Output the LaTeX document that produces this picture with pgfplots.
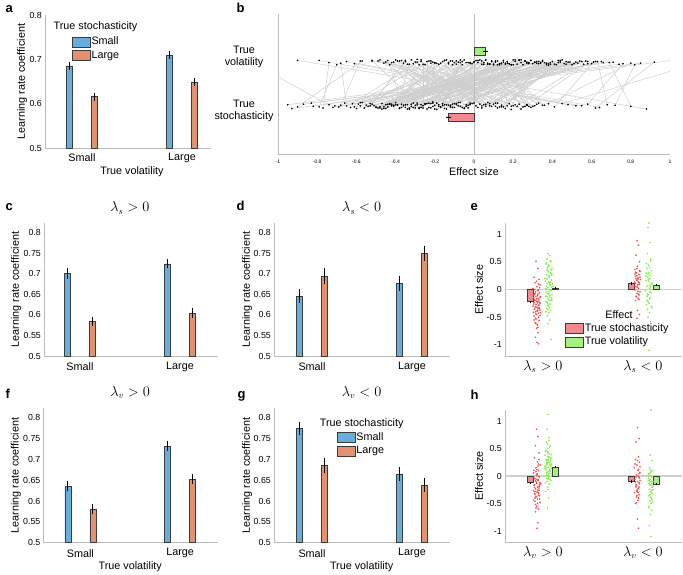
\documentclass[border=0pt]{standalone}
\usepackage{fontspec}
\setmainfont{Liberation Sans}
\usepackage{pgfplots}
\usepackage{pgfplotstable}
\pgfplotsset{compat=1.18}
\definecolor{blueC}{HTML}{68AEDC}
\definecolor{orangeC}{HTML}{E39170}
\definecolor{edgeC}{HTML}{3C3C3C}
\definecolor{axC}{HTML}{BBBBBB}
\definecolor{redBar}{HTML}{F08A8E}
\definecolor{greenBar}{HTML}{A4F07E}
\definecolor{redDot}{HTML}{FF4B4B}
\definecolor{greenDot}{HTML}{7CF23E}
\definecolor{lineC}{HTML}{CECECE}
\definecolor{zeroC}{HTML}{CFCFCF}
\newcommand\labfont{\fontsize{10.8}{12}\selectfont}
\newcommand\tickfont{\fontsize{8.8}{10}\selectfont}
\newcommand\tinyticks{\fontsize{5}{6}\selectfont}
\newcommand\titfont{\fontsize{13.5}{15}\selectfont}
\newcommand\letfont{\fontsize{13}{14}\selectfont\bfseries}
\pgfplotsset{
  panel/.style={scale only axis, anchor=south west,
    axis x line=bottom, axis y line=left,
    axis line style={-, draw=axC, line width=0.6pt},
    every outer x axis line/.append style={-},
    every outer y axis line/.append style={-},
    every inner x axis line/.append style={-},
    every inner y axis line/.append style={-},
    major tick length=0pt, minor tick num=0,
    /pgf/number format/assume math mode=true,
    tick label style={font=\tickfont},
    yticklabel style={anchor=east, inner sep=0pt, xshift=-3pt},
    xticklabel style={anchor=center, inner sep=0pt, font=\labfont, yshift=-10.5pt},
    label style={font=\labfont},
    title style={font=\titfont, anchor=center},
    ylabel style={anchor=center},
    xlabel style={anchor=center},
  },
  lrc/.style={panel, ymin=0.5, ymax=0.8236, xtick={1,2}, xticklabels={Small,Large},
    ytick={0.5,0.55,0.6,0.65,0.7,0.75,0.8},
    yticklabels={0.5,0.55,0.6,0.65,0.7,0.75,0.8},
    ylabel={Learning rate coefficient}},
  legsty/.style={legend style={draw=none, fill=none, inner sep=0pt, font=\labfont,
      row sep=0.8pt, nodes={inner sep=1pt, text height=8pt, text depth=2.5pt}, cells={anchor=west}},
    legend cell align=left,
    legend image code/.code={\draw[##1, line width=0.6pt] (0pt,-5pt) rectangle (18pt,5pt);}},
  vbar/.style={ybar, bar width=6pt, bar shift=0pt, draw=edgeC, line width=0.6pt, forget plot,
    error bars/y dir=both, error bars/y explicit, error bars/error mark=none,
    error bars/error bar style={line width=0.9pt, black}},
  cloud/.style={only marks, mark=*, mark size=0.6pt, forget plot},
  zline/.style={draw=zeroC, line width=1.4pt, forget plot},
}
\pgfplotstableread{
xs ys xv yv
-0.42 1.10 0.31 1.90
0.12 1.06 -0.22 1.93
-0.25 1.14 0.05 1.87
-0.61 1.08 0.44 1.91
0.05 1.12 -0.48 1.95
-0.33 1.04 0.18 1.88
-0.08 1.16 0.62 1.92
0.28 1.09 -0.11 1.86
-0.52 1.13 -0.35 1.94
-0.17 1.07 0.27 1.89
0.35 1.11 0.09 1.93
-0.45 1.05 -0.04 1.90
-0.02 1.15 0.38 1.85
-0.71 1.10 0.55 1.92
0.19 1.03 -0.29 1.96
-0.29 1.12 0.14 1.88
-0.12 1.08 -0.41 1.91
0.08 1.14 0.47 1.87
-0.38 1.06 0.02 1.94
-0.55 1.11 -0.17 1.89
0.22 1.09 0.33 1.92
-0.21 1.17 -0.06 1.86
-0.47 1.04 0.24 1.90
0.03 1.13 -0.32 1.95
-0.31 1.07 0.51 1.88
-0.14 1.12 0.11 1.93
0.31 1.10 -0.45 1.91
-0.66 1.15 0.07 1.87
-0.05 1.05 0.29 1.94
-0.36 1.11 -0.13 1.90
0.15 1.08 0.42 1.86
-0.24 1.14 -0.24 1.92
-0.49 1.06 0.16 1.89
-0.09 1.12 -0.38 1.93
0.26 1.09 0.58 1.88
-0.40 1.16 0.00 1.91
-0.19 1.03 0.21 1.95
-0.58 1.10 -0.09 1.87
0.10 1.13 0.36 1.90
-0.27 1.07 -0.52 1.94
-0.03 1.11 0.13 1.86
-0.44 1.08 0.40 1.92
0.33 1.15 -0.19 1.89
-0.15 1.05 0.26 1.93
-0.35 1.12 -0.01 1.88
0.06 1.09 0.49 1.91
-0.62 1.14 -0.27 1.95
-0.22 1.06 0.08 1.87
0.17 1.10 0.34 1.90
-0.11 1.13 -0.15 1.94
-0.50 1.07 0.19 1.86
-0.30 1.11 0.65 1.92
0.24 1.04 -0.36 1.89
-0.07 1.16 0.04 1.93
-0.41 1.09 0.30 1.88
-0.18 1.12 -0.21 1.91
0.13 1.08 0.45 1.95
-0.53 1.14 0.10 1.87
-0.26 1.06 -0.07 1.90
0.01 1.10 0.23 1.94
-0.37 1.13 -0.43 1.86
0.29 1.07 0.17 1.92
-0.13 1.11 0.53 1.89
-0.46 1.05 -0.12 1.93
-0.23 1.15 0.28 1.88
0.09 1.09 -0.30 1.91
-0.34 1.12 0.06 1.95
-0.69 1.08 0.39 1.87
-0.01 1.14 -0.02 1.90
-0.28 1.06 0.15 1.94
0.20 1.10 -0.25 1.86
-0.43 1.13 0.32 1.92
-0.10 1.07 -0.46 1.89
0.36 1.11 0.12 1.93
-0.20 1.04 0.60 1.88
-0.57 1.16 -0.08 1.91
-0.04 1.09 0.20 1.95
-0.39 1.12 -0.33 1.87
0.14 1.08 0.43 1.90
-0.16 1.14 0.01 1.94
-0.48 1.06 0.25 1.86
0.04 1.10 -0.16 1.92
-0.32 1.13 0.37 1.89
-0.06 1.07 -0.39 1.93
0.27 1.11 0.08 1.88
-0.60 1.05 0.48 1.91
-0.21 1.15 -0.05 1.95
0.11 1.09 0.22 1.87
-0.40 1.12 -0.20 1.90
-0.12 1.08 0.35 1.94
-0.95 1.12 0.71 1.91
-0.90 1.08 -0.57 1.93
-0.83 1.15 0.85 1.89
-0.77 1.06 -0.74 1.90
0.52 1.10 -0.90 1.94
0.58 1.13 0.76 1.88
0.64 1.07 -0.65 1.92
0.72 1.11 0.82 1.86
0.80 1.09 0.69 1.90
0.88 1.04 -0.52 1.93
-0.93 1.05 1.05 1.96
0.45 1.14 1.15 1.90
-0.74 1.12 -1.10 1.83
0.41 1.08 0.61 1.91
-0.65 1.10 -0.68 1.89
-0.44 1.13 0.14 1.89
0.02 1.07 -0.27 1.92
-0.31 1.15 0.41 1.87
-0.18 1.09 0.03 1.95
0.21 1.12 -0.10 1.90
-0.56 1.06 0.26 1.93
-0.09 1.14 -0.31 1.88
-0.36 1.10 0.52 1.91
0.16 1.05 0.19 1.86
-0.25 1.13 -0.44 1.94
-0.48 1.08 0.07 1.89
0.07 1.16 0.35 1.92
-0.14 1.04 -0.18 1.87
-0.39 1.11 0.23 1.95
0.30 1.09 -0.03 1.90
-0.22 1.14 0.46 1.88
-0.63 1.07 -0.23 1.93
-0.04 1.12 0.10 1.86
-0.33 1.06 0.31 1.91
0.11 1.15 -0.37 1.94
-0.51 1.10 0.17 1.89
-0.17 1.08 -0.06 1.92
0.23 1.13 0.56 1.87
-0.28 1.05 0.02 1.90
-0.45 1.12 -0.14 1.95
-0.07 1.09 0.38 1.88
0.18 1.14 -0.49 1.93
-0.37 1.07 0.12 1.86
-0.12 1.11 0.27 1.91
-0.58 1.16 -0.02 1.89
0.04 1.06 0.44 1.94
-0.26 1.10 -0.26 1.87
-0.42 1.13 0.21 1.92
0.25 1.08 0.05 1.90
-0.19 1.15 -0.40 1.95
-0.34 1.04 0.33 1.88
-0.02 1.12 -0.11 1.93
-0.54 1.09 0.50 1.86
0.14 1.11 0.15 1.91
-0.23 1.07 -0.20 1.89
-0.47 1.14 0.29 1.94
-0.08 1.10 -0.34 1.87
0.32 1.13 0.09 1.92
-0.30 1.06 0.39 1.90
-0.15 1.12 -0.07 1.95
-0.50 1.08 0.18 1.88
0.00 1.15 0.57 1.93
-0.38 1.05 -0.28 1.86
-0.20 1.11 0.11 1.91
0.19 1.09 0.32 1.89
-0.43 1.14 -0.15 1.94
-0.11 1.07 0.04 1.87
-0.27 1.12 0.47 1.92
0.08 1.10 -0.42 1.90
-0.59 1.13 0.24 1.95
-0.05 1.06 0.13 1.88
-0.32 1.09 -0.09 1.93
0.12 1.15 0.37 1.86
-0.46 1.08 0.00 1.91
-0.16 1.11 -0.22 1.89
-0.24 1.04 0.43 1.94
0.27 1.12 0.16 1.87
-0.53 1.10 -0.35 1.92
-0.10 1.14 0.28 1.90
-0.35 1.07 0.06 1.95
0.06 1.13 -0.13 1.88
-0.21 1.09 0.54 1.93
-0.41 1.11 0.20 1.86
-0.03 1.06 -0.29 1.91
-0.29 1.15 0.34 1.89
-0.82 1.09 0.58 1.92
0.48 1.12 -0.61 1.88
-0.72 1.07 0.66 1.90
0.55 1.10 -0.79 1.94
-0.87 1.13 0.74 1.87
0.62 1.06 0.92 1.91
-0.68 1.11 -0.58 1.93
0.38 1.14 0.80 1.89
-0.79 1.08 -0.70 1.86
0.68 1.12 0.63 1.92
}\bdata
\begin{document}
\begin{tikzpicture}
\path[use as bounding box] (0pt,0pt) rectangle (683pt,-574pt);
% ---------------- a
\begin{axis}[lrc, legsty, at={(45pt,-148pt)}, width=166pt, height=133pt,
  xmin=0.63, xmax=2.29, ymax=0.8,
  ytick={0.5,0.6,0.7,0.8}, yticklabels={0.5,0.6,0.7,0.8},
  xticklabel style={yshift=0.5pt},
  xlabel={True volatility}, xlabel style={at={(axis description cs:0.524,-0.1805)}},
  ylabel style={at={(axis description cs:-0.1386,0.5)}},
  legend style={at={(axis description cs:0.161,0.845)}, anchor=north west}]
\addplot[vbar, fill=blueC] coordinates {(0.875,0.685) +- (0,0.010) (1.875,0.710) +- (0,0.009)};
\addplot[vbar, fill=orangeC] coordinates {(1.125,0.616) +- (0,0.009) (2.125,0.648) +- (0,0.009)};
\addlegendimage{fill=blueC, draw=edgeC}\addlegendentry{Small}
\addlegendimage{fill=orangeC, draw=edgeC}\addlegendentry{Large}
\end{axis}
\node[font=\labfont] at (95.5pt,-26.7pt) {True stochasticity};
% ---------------- b
\begin{axis}[panel, at={(278pt,-154pt)}, width=392pt, height=140pt,
  xmin=-1, xmax=1, ymin=0.2074, ymax=2.8,
  xtick={-1,-0.8,-0.6,-0.4,-0.2,0,0.2,0.4,0.6,0.8,1},
  xticklabels={-1,-0.8,-0.6,-0.4,-0.2,0,0.2,0.4,0.6,0.8,1},
  xticklabel style={font=\tinyticks, yshift=2.5pt},
  ytick={1,2}, yticklabels={{True\\stochasticity},{True\\volatility}},
  yticklabel style={anchor=center, align=center, font=\labfont, xshift=-31pt},
  xlabel={Effect size}, xlabel style={at={(axis description cs:0.5,-0.1286)}}]
\addplot[quiver={u=\thisrow{xv}-\thisrow{xs}, v=\thisrow{yv}-\thisrow{ys}},
  draw=lineC, line width=0.5pt, forget plot] table[x=xs, y=ys] {\bdata};
\addplot[draw=axC, line width=0.7pt, forget plot] coordinates {(0,0.2074) (0,2.8)};
\addplot[only marks, mark=*, mark size=0.6pt, black, forget plot] table[x=xs, y=ys] {\bdata};
\addplot[only marks, mark=*, mark size=0.6pt, black, forget plot] table[x=xv, y=yv] {\bdata};
\addplot[xbar, bar width=8pt, bar shift=0pt, fill=greenBar, draw=edgeC, line width=0.6pt, forget plot,
  error bars/x dir=both, error bars/x explicit, error bars/error mark=none,
  error bars/error bar style={line width=0.9pt, black}]
  coordinates {(0.057,2.115) +- (0.012,0)};
\addplot[xbar, bar width=8pt, bar shift=0pt, fill=redBar, draw=edgeC, line width=0.6pt, forget plot,
  error bars/x dir=both, error bars/x explicit, error bars/error mark=none,
  error bars/error bar style={line width=0.9pt, black}]
  coordinates {(-0.13,0.893) +- (0.012,0)};
\end{axis}
% ---------------- c
\begin{axis}[lrc, at={(44pt,-356pt)}, width=174pt, height=133pt,
  xmin=0.64, xmax=2.38,
  ylabel style={at={(axis description cs:-0.161,0.5)}},
  title={$\lambda_s>0$}, title style={at={(axis description cs:0.494,1.068)}}]
\addplot[vbar, fill=blueC] coordinates {(0.875,0.701) +- (0,0.013) (1.875,0.724) +- (0,0.011)};
\addplot[vbar, fill=orangeC] coordinates {(1.125,0.584) +- (0,0.012) (2.125,0.604) +- (0,0.012)};
\end{axis}
% ---------------- d
\begin{axis}[lrc, at={(274pt,-356pt)}, width=176pt, height=133pt,
  xmin=0.62, xmax=2.38,
  ylabel style={at={(axis description cs:-0.153,0.5)}},
  title={$\lambda_s<0$}, title style={at={(axis description cs:0.498,1.068)}}]
\addplot[vbar, fill=blueC] coordinates {(0.875,0.646) +- (0,0.017) (1.875,0.676) +- (0,0.018)};
\addplot[vbar, fill=orangeC] coordinates {(1.125,0.694) +- (0,0.019) (2.125,0.750) +- (0,0.018)};
\end{axis}
% ---------------- e
\begin{axis}[panel, legsty, at={(505pt,-356pt)}, width=177pt, height=133pt,
  xmin=0.62, xmax=2.39, ymin=-1.2, ymax=1.2,
  ytick={-1,-0.5,0,0.5,1}, yticklabels={-1,-0.5,0,0.5,1},
  xtick={1,2}, xticklabels={$\lambda_s>0$,$\lambda_s<0$},
  xticklabel style={font=\titfont},
  ylabel={Effect size}, ylabel style={at={(axis description cs:-0.147,0.5)}},
  legend style={at={(axis description cs:0.339,0.254)}, anchor=north west}]
\addplot[zline] coordinates {(0.62,0) (2.39,0)};
\addplot[cloud, redDot] coordinates {(0.93,0.51)(0.95,0.38)(0.91,0.22)(0.96,0.18)(0.92,0.12)(0.97,0.08)(0.94,0.05)(0.90,0.02)(0.955,-0.01)(0.925,-0.04)(0.965,-0.06)(0.915,-0.09)(0.945,-0.11)(0.975,-0.13)(0.905,-0.15)(0.935,-0.17)(0.96,-0.19)(0.92,-0.20)(0.95,-0.22)(0.91,-0.24)(0.97,-0.25)(0.93,-0.27)(0.955,-0.29)(0.9,-0.30)(0.94,-0.32)(0.965,-0.34)(0.915,-0.36)(0.945,-0.38)(0.925,-0.40)(0.975,-0.42)(0.935,-0.45)(0.91,-0.48)(0.955,-0.50)(0.93,-0.53)(0.96,-0.56)(0.92,-0.60)(0.945,-0.64)(0.935,-0.70)(0.95,-0.78)(0.925,-0.86)(0.94,-0.95)(0.955,-0.98)(0.97,-0.14)(0.905,-0.26)(0.96,-0.33)(0.92,0.0)(0.95,-0.08)(0.93,-0.44)
(0.915,-0.18)(0.95,-0.35)(0.93,-0.12)(0.965,-0.23)(0.905,-0.41)(0.945,-0.02)(0.925,-0.31)(0.97,-0.47)(0.935,-0.21)(0.955,0.10)(0.91,-0.55)(0.94,-0.39)(0.96,-0.28)(0.92,-0.07)(0.95,-0.16)(0.93,-0.62)(0.965,0.03)(0.915,-0.34)(0.945,-0.24)(0.925,-0.52)(0.955,-0.43)(0.935,0.15)(0.97,-0.37)(0.905,-0.10)(0.95,-0.68)};
\addplot[cloud, greenDot] coordinates {(1.05,0.65)(1.07,0.62)(1.04,0.55)(1.08,0.50)(1.03,0.46)(1.06,0.42)(1.09,0.38)(1.045,0.34)(1.075,0.30)(1.035,0.27)(1.065,0.24)(1.02,0.20)(1.085,0.17)(1.055,0.14)(1.04,0.11)(1.07,0.08)(1.1,0.05)(1.05,0.03)(1.03,0.01)(1.08,-0.02)(1.06,-0.04)(1.045,-0.07)(1.09,-0.09)(1.025,-0.12)(1.065,-0.14)(1.05,-0.17)(1.08,-0.20)(1.04,-0.23)(1.07,-0.26)(1.055,-0.30)(1.035,-0.34)(1.075,-0.38)(1.06,-0.42)(1.045,-0.47)(1.07,-0.55)(1.05,-0.62)(1.08,-0.90)(1.095,0.10)(1.03,-0.05)(1.06,0.22)(1.085,-0.15)(1.04,0.36)(1.065,0.0)(1.05,-0.28)(1.075,0.13)(1.035,0.06)(1.09,0.28)
(1.04,0.19)(1.07,-0.11)(1.055,0.32)(1.03,-0.21)(1.085,0.04)(1.045,0.40)(1.065,-0.33)(1.025,0.15)(1.075,-0.01)(1.05,0.25)(1.09,-0.18)(1.035,0.48)(1.06,-0.08)(1.08,0.35)(1.045,-0.25)(1.07,0.09)(1.03,-0.40)(1.055,0.44)(1.065,0.12)(1.04,-0.13)(1.085,0.26)(1.05,-0.36)(1.025,0.02)(1.075,0.52)(1.06,-0.19)};
\addplot[cloud, redDot] coordinates {(1.94,0.88)(1.955,0.80)(1.93,0.62)(1.965,0.50)(1.945,0.42)(1.92,0.36)(1.97,0.33)(1.935,0.30)(1.96,0.27)(1.925,0.24)(1.95,0.21)(1.975,0.18)(1.94,0.16)(1.915,0.13)(1.965,0.10)(1.945,0.08)(1.93,0.05)(1.955,0.02)(1.92,-0.01)(1.97,-0.04)(1.94,-0.07)(1.96,-0.10)(1.935,-0.13)(1.95,-0.16)(1.925,-0.20)(1.945,-0.38)(1.965,-0.45)(1.94,-0.52)(1.96,0.12)(1.93,0.20)(1.955,0.14)(1.92,0.06)
(1.94,0.25)(1.96,0.09)(1.925,0.31)(1.95,-0.03)(1.97,0.22)(1.935,0.17)(1.955,-0.08)(1.92,0.28)(1.945,0.04)(1.965,0.34)(1.93,-0.12)(1.95,0.19)(1.94,0.38)(1.96,-0.18)(1.925,0.11)};
\addplot[cloud, greenDot] coordinates {(2.06,1.20)(2.05,1.12)(2.07,0.85)(2.045,0.65)(2.075,0.55)(2.035,0.47)(2.065,0.40)(2.085,0.34)(2.05,0.28)(2.03,0.24)(2.07,0.20)(2.055,0.15)(2.09,0.10)(2.04,0.06)(2.065,0.02)(2.025,-0.02)(2.08,-0.06)(2.05,-0.10)(2.07,-0.15)(2.04,-0.20)(2.06,-0.25)(2.085,-0.30)(2.045,-0.36)(2.065,-0.42)(2.05,-0.50)(2.075,-0.58)(2.06,-1.10)(2.035,0.30)(2.08,0.0)(2.055,0.18)(2.07,0.08)(2.04,-0.12)
(2.05,0.22)(2.07,-0.04)(2.04,0.38)(2.065,-0.17)(2.085,0.12)(2.035,-0.27)(2.055,0.44)(2.075,0.04)(2.045,-0.08)(2.06,0.31)(2.09,-0.33)(2.03,0.16)(2.07,0.26)(2.05,-0.22)(2.08,0.52)};
\addplot[vbar, fill=redBar] coordinates {(0.87,-0.22) +- (0,0.02) (1.88,0.11) +- (0,0.02)};
\addplot[vbar, fill=greenBar] coordinates {(1.127,0.03) +- (0,0.015) (2.137,0.08) +- (0,0.02)};
\addlegendimage{fill=redBar, draw=edgeC}\addlegendentry{True stochasticity}
\addlegendimage{fill=greenBar, draw=edgeC}\addlegendentry{True volatility}
\end{axis}
\node[font=\labfont] at (619pt,-315pt) {Effect};
% ---------------- f
\begin{axis}[lrc, at={(43.5pt,-542.7pt)}, width=174.5pt, height=134.4pt,
  xmin=0.63, xmax=2.38, ymax=0.8225,
  xlabel={True volatility}, xlabel style={at={(axis description cs:0.497,-0.1786)}},
  ylabel style={at={(axis description cs:-0.158,0.5)}},
  title={$\lambda_v>0$}, title style={at={(axis description cs:0.497,1.074)}}]
\addplot[vbar, fill=blueC] coordinates {(0.875,0.636) +- (0,0.013) (1.875,0.732) +- (0,0.011)};
\addplot[vbar, fill=orangeC] coordinates {(1.125,0.580) +- (0,0.012) (2.125,0.652) +- (0,0.012)};
\end{axis}
% ---------------- g
\begin{axis}[lrc, legsty, at={(274pt,-542.7pt)}, width=176pt, height=134.4pt,
  xmin=0.62, xmax=2.38, ymax=0.8225,
  xlabel={True volatility}, xlabel style={at={(axis description cs:0.498,-0.1786)}},
  ylabel style={at={(axis description cs:-0.153,0.5)}},
  title={$\lambda_v<0$}, title style={at={(axis description cs:0.498,1.074)}},
  legend style={at={(axis description cs:0.356,0.829)}, anchor=north west}]
\addplot[vbar, fill=blueC] coordinates {(0.875,0.774) +- (0,0.016) (1.875,0.665) +- (0,0.016)};
\addplot[vbar, fill=orangeC] coordinates {(1.125,0.686) +- (0,0.018) (2.125,0.638) +- (0,0.017)};
\addlegendimage{fill=blueC, draw=edgeC}\addlegendentry{Small}
\addlegendimage{fill=orangeC, draw=edgeC}\addlegendentry{Large}
\end{axis}
\node[font=\labfont] at (361.7pt,-423.3pt) {True stochasticity};
% ---------------- h
\begin{axis}[panel, at={(505pt,-542pt)}, width=177pt, height=132pt,
  xmin=0.62, xmax=2.39, ymin=-1.2, ymax=1.2,
  ytick={-1,-0.5,0,0.5,1}, yticklabels={-1,-0.5,0,0.5,1},
  xtick={1,2}, xticklabels={$\lambda_v>0$,$\lambda_v<0$},
  xticklabel style={font=\titfont},
  ylabel={Effect size}, ylabel style={at={(axis description cs:-0.147,0.5)}}]
\addplot[zline] coordinates {(0.62,0) (2.39,0)};
\addplot[cloud, redDot] coordinates {(0.935,0.85)(0.95,0.72)(0.925,0.55)(0.96,0.42)(0.915,0.33)(0.945,0.26)(0.97,0.20)(0.93,0.15)(0.955,0.10)(0.905,0.06)(0.94,0.02)(0.965,-0.02)(0.92,-0.05)(0.95,-0.08)(0.935,-0.11)(0.975,-0.14)(0.91,-0.17)(0.945,-0.20)(0.925,-0.23)(0.96,-0.26)(0.94,-0.29)(0.915,-0.32)(0.955,-0.35)(0.93,-0.38)(0.965,-0.42)(0.92,-0.46)(0.945,-0.50)(0.935,-0.55)(0.955,-0.60)(0.925,-0.65)(0.95,-0.85)(0.94,-0.95)(0.97,-0.12)(0.91,-0.03)(0.96,-0.22)(0.93,0.08)(0.95,-0.30)(0.92,-0.40)(0.965,-0.18)(0.94,0.12)(0.905,-0.27)(0.955,-0.07)
(0.925,-0.09)(0.955,-0.31)(0.94,0.04)(0.915,-0.21)(0.965,-0.15)(0.93,-0.37)(0.95,0.18)(0.905,-0.44)(0.945,-0.25)(0.96,-0.01)(0.92,-0.33)(0.935,-0.13)(0.97,-0.48)(0.91,0.10)(0.95,-0.19)(0.93,-0.58)(0.955,0.22)(0.94,-0.06)(0.92,-0.28)(0.965,-0.36)(0.935,0.01)(0.945,-0.42)(0.915,-0.16)(0.96,0.30)(0.925,-0.52)};
\addplot[cloud, greenDot] coordinates {(1.05,1.12)(1.04,0.85)(1.06,0.70)(1.035,0.62)(1.07,0.55)(1.045,0.50)(1.025,0.45)(1.065,0.40)(1.05,0.36)(1.08,0.32)(1.03,0.28)(1.06,0.25)(1.04,0.22)(1.075,0.19)(1.055,0.16)(1.02,0.13)(1.065,0.10)(1.045,0.07)(1.085,0.04)(1.035,0.01)(1.055,-0.02)(1.07,-0.06)(1.04,-0.10)(1.06,-0.15)(1.05,-0.20)(1.03,-0.28)(1.055,-0.40)(1.045,-0.58)(1.075,0.30)(1.025,0.18)(1.06,0.08)(1.04,0.24)(1.08,0.14)(1.05,0.42)(1.035,-0.04)(1.07,0.20)(1.055,0.34)(1.03,0.11)(1.065,0.05)(1.045,0.27)(1.085,0.22)(1.02,0.38)
(1.04,0.30)(1.065,0.12)(1.03,0.47)(1.055,0.03)(1.075,0.26)(1.045,0.58)(1.02,0.17)(1.06,0.35)(1.08,-0.08)(1.035,0.21)(1.05,0.44)(1.07,0.09)(1.025,-0.13)(1.055,0.29)(1.085,0.39)(1.04,0.02)(1.065,0.52)(1.03,0.15)(1.05,-0.24)(1.075,0.33)(1.045,0.23)(1.06,0.65)(1.035,0.06)(1.08,0.18)(1.055,-0.05)};
\addplot[cloud, redDot] coordinates {(1.945,0.88)(1.96,0.68)(1.93,0.62)(1.955,0.35)(1.925,0.30)(1.965,0.25)(1.94,0.20)(1.915,0.15)(1.95,0.10)(1.97,0.06)(1.935,0.02)(1.96,-0.02)(1.92,-0.06)(1.945,-0.10)(1.965,-0.14)(1.93,-0.18)(1.955,-0.22)(1.94,-0.26)(1.915,-0.30)(1.96,-0.34)(1.935,-0.38)(1.95,-0.44)(1.925,-0.50)(1.945,-0.78)(1.955,-0.95)(1.97,-0.08)(1.93,-0.20)(1.95,0.00)(1.94,-0.28)(1.96,-0.12)
(1.93,-0.16)(1.955,0.12)(1.94,-0.36)(1.965,-0.04)(1.92,0.22)(1.945,-0.24)(1.96,0.04)(1.935,-0.48)(1.95,-0.30)(1.97,0.17)(1.925,-0.11)(1.945,0.28)(1.955,-0.40)(1.93,-0.02)(1.96,-0.20)};
\addplot[cloud, greenDot] coordinates {(2.08,1.20)(2.07,0.38)(2.09,0.28)(2.065,0.15)(2.095,0.10)(2.075,0.06)(2.055,0.02)(2.085,-0.02)(2.07,-0.06)(2.1,-0.10)(2.06,-0.13)(2.08,-0.16)(2.09,-0.20)(2.065,-0.24)(2.075,-0.28)(2.095,-0.32)(2.055,-0.36)(2.085,-0.40)(2.07,-0.45)(2.08,-0.50)(2.06,-0.55)(2.09,-0.62)(2.075,-0.70)(2.065,-0.90)(2.08,-1.10)(2.1,-0.18)(2.06,-0.08)(2.085,-0.26)(2.07,0.00)(2.09,-0.14)
(2.07,-0.11)(2.085,-0.30)(2.06,0.04)(2.09,-0.21)(2.075,-0.38)(2.055,-0.04)(2.095,-0.48)(2.065,-0.17)(2.08,0.08)(2.07,-0.34)(2.1,-0.25)(2.06,-0.58)(2.085,-0.10)(2.075,0.12)(2.09,-0.43)};
\addplot[vbar, fill=redBar] coordinates {(0.87,-0.12) +- (0,0.02) (1.88,-0.10) +- (0,0.02)};
\addplot[vbar, fill=greenBar] coordinates {(1.127,0.16) +- (0,0.02) (2.137,-0.15) +- (0,0.02)};
\end{axis}
% ---------------- panel letters
\node[anchor=base west, font=\letfont] at (2pt,-12pt) {a};
\node[anchor=base west, font=\letfont] at (233pt,-12pt) {b};
\node[anchor=base west, font=\letfont] at (2pt,-210pt) {c};
\node[anchor=base west, font=\letfont] at (233pt,-210pt) {d};
\node[anchor=base west, font=\letfont] at (467pt,-210pt) {e};
\node[anchor=base west, font=\letfont] at (2pt,-398.5pt) {f};
\node[anchor=base west, font=\letfont] at (234pt,-398.5pt) {g};
\node[anchor=base west, font=\letfont] at (467pt,-399.5pt) {h};
\end{tikzpicture}
\end{document}
